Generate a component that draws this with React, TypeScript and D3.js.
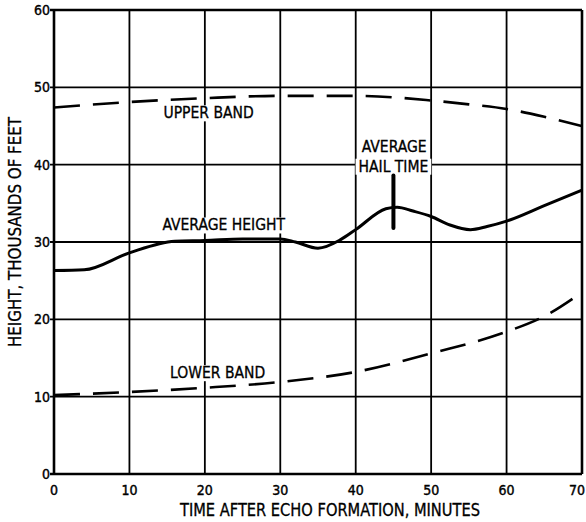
import React, { useEffect, useRef } from "react";
import * as d3 from "d3";

// values (minutes, thousands of feet)
const xTicks = [0, 10, 20, 30, 40, 50, 60, 70];
const yTicks = [0, 10, 20, 30, 40, 50, 60];

const upperBand = [
  { t: 0, h: 47.4 }, { t: 10, h: 48.1 }, { t: 20, h: 48.6 }, { t: 30, h: 48.9 },
  { t: 40, h: 48.9 }, { t: 50, h: 48.3 }, { t: 55, h: 47.8 }, { t: 60, h: 47.2 },
  { t: 65, h: 46.2 }, { t: 70, h: 45.0 },
];

const lowerBand = [
  { t: 0, h: 10.2 }, { t: 10, h: 10.6 }, { t: 20, h: 11.15 }, { t: 30, h: 11.9 },
  { t: 40, h: 13.2 }, { t: 50, h: 15.6 }, { t: 60, h: 18.4 }, { t: 65, h: 20.4 },
  { t: 70, h: 23.5 },
];

const averageHeight = [
  { t: 0, h: 26.3 }, { t: 4, h: 26.4 }, { t: 10, h: 28.6 }, { t: 16, h: 30.1 },
  { t: 20, h: 30.2 }, { t: 25, h: 30.4 }, { t: 30, h: 30.4 }, { t: 32, h: 30.0 },
  { t: 35, h: 29.2 }, { t: 38, h: 30.3 }, { t: 40, h: 31.6 }, { t: 44, h: 34.3 },
  { t: 45.5, h: 34.5 }, { t: 47.6, h: 34.0 }, { t: 50, h: 33.3 }, { t: 52.5, h: 32.2 },
  { t: 55.2, h: 31.6 }, { t: 57.4, h: 32.0 }, { t: 60, h: 32.7 }, { t: 65, h: 34.7 },
  { t: 70, h: 36.7 },
];

const hailTime = { t: 45, from: 31.8, to: 38.6 };

const labels = [
  { text: "UPPER BAND", t: 20.5, h: 46.7 },
  { text: "LOWER BAND", t: 21.7, h: 13.1 },
  { text: "AVERAGE HEIGHT", t: 22.5, h: 32.2 },
  { text: "AVERAGE", t: 45.1, h: 42.3 },
  { text: "HAIL TIME", t: 45.0, h: 39.8 },
];

const TICK_FONT = "'DejaVu Sans Condensed', 'DejaVu Sans', sans-serif";
const LABEL_FONT = "'Liberation Sans Narrow', 'DejaVu Sans Condensed', sans-serif";

export default function App() {
  const ref = useRef<SVGSVGElement>(null);
  const width = 586;
  const height = 522;

  useEffect(() => {
    const svg = d3.select(ref.current);
    svg.selectAll("*").remove();

    const x = d3.scaleLinear().domain([0, 70]).range([54, 582]);
    const y = d3.scaleLinear().domain([0, 60]).range([474, 10]);

    const g = svg.append("g");

    // grid
    g.selectAll("line.vgrid").data(xTicks).enter().append("line")
      .attr("x1", d => x(d)).attr("x2", d => x(d))
      .attr("y1", y(0)).attr("y2", y(60))
      .attr("stroke", "#000")
      .attr("stroke-width", d => (d === 0 || d === 70 ? 2.6 : 1.8));

    g.selectAll("line.hgrid").data(yTicks).enter().append("line")
      .attr("x1", x(0) - 4).attr("x2", x(70))
      .attr("y1", d => y(d)).attr("y2", d => y(d))
      .attr("stroke", "#000")
      .attr("stroke-width", d => (d === 0 || d === 60 ? 2.6 : 1.8));

    // tick labels
    g.selectAll("text.ylab").data(yTicks).enter().append("text")
      .attr("x", 50).attr("y", d => y(d) + 5)
      .attr("text-anchor", "end")
      .attr("font-family", TICK_FONT).attr("font-size", 14)
      .attr("stroke", "#000").attr("stroke-width", 0.4)
      .text(d => d);

    g.selectAll("text.xlab").data(xTicks).enter().append("text")
      .attr("x", d => (d === 70 ? 585 : x(d))).attr("y", 495)
      .attr("text-anchor", d => (d === 70 ? "end" : "middle"))
      .attr("font-family", TICK_FONT).attr("font-size", 14)
      .attr("stroke", "#000").attr("stroke-width", 0.4)
      .text(d => d);

    // white boxes behind annotations break the grid lines
    const ann = g.append("g");
    labels.forEach(l => {
      const t = ann.append("text")
        .attr("x", x(l.t)).attr("y", y(l.h) + 5.5)
        .attr("text-anchor", "middle")
        .attr("font-family", LABEL_FONT).attr("font-size", 15.5)
        .attr("stroke", "#000").attr("stroke-width", 0.3)
        .text(l.text);
      const b = (t.node() as SVGTextElement).getBBox();
      ann.insert("rect", "text")
        .attr("x", b.x - 3).attr("y", b.y + 1)
        .attr("width", b.width + 6).attr("height", b.height - 2)
        .attr("fill", "#fff");
    });

    const line = d3.line<{ t: number; h: number }>()
      .x(d => x(d.t)).y(d => y(d.h))
      .curve(d3.curveMonotoneX);

    g.append("path").datum(upperBand)
      .attr("d", line).attr("fill", "none")
      .attr("stroke", "#000").attr("stroke-width", 2.6)
      .attr("stroke-dasharray", "26 13");

    g.append("path").datum(lowerBand)
      .attr("d", line).attr("fill", "none")
      .attr("stroke", "#000").attr("stroke-width", 2.6)
      .attr("stroke-dasharray", "26 13");

    g.append("path").datum(averageHeight)
      .attr("d", line).attr("fill", "none")
      .attr("stroke", "#000").attr("stroke-width", 3);

    g.append("line")
      .attr("x1", x(hailTime.t)).attr("x2", x(hailTime.t))
      .attr("y1", y(hailTime.from)).attr("y2", y(hailTime.to))
      .attr("stroke", "#000").attr("stroke-width", 4)
      .attr("stroke-linecap", "round");

    // axis titles
    svg.append("text")
      .attr("x", 330).attr("y", 516)
      .attr("text-anchor", "middle")
      .attr("font-family", LABEL_FONT).attr("font-size", 17)
      .attr("stroke", "#000").attr("stroke-width", 0.3)
      .attr("textLength", 300).attr("lengthAdjust", "spacingAndGlyphs")
      .text("TIME AFTER ECHO FORMATION, MINUTES");

    svg.append("text")
      .attr("transform", "translate(21,232) rotate(-90)")
      .attr("text-anchor", "middle")
      .attr("font-family", LABEL_FONT).attr("font-size", 17)
      .attr("stroke", "#000").attr("stroke-width", 0.3)
      .attr("textLength", 230).attr("lengthAdjust", "spacingAndGlyphs")
      .text("HEIGHT, THOUSANDS OF FEET");
  }, []);

  return (
    <svg
      ref={ref}
      width={width}
      height={height}
      style={{ position: "absolute", left: 0, top: 0, background: "#fff" }}
    />
  );
}
